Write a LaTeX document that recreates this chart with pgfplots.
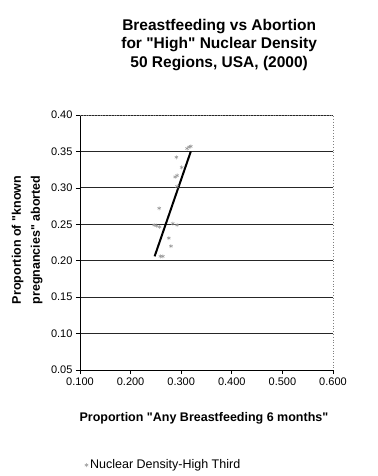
\documentclass[border=0pt]{standalone}
\usepackage{pgfplots}
\pgfplotsset{compat=1.18}
\usepackage{fontspec}
\setmainfont{Liberation Sans}
\newcommand{\dq}{\textquotedbl}

% States in the upper third of nuclear density
\pgfplotstableread{
x      y
0.3115 0.354
0.3156 0.356
0.3190 0.357
0.2905 0.342
0.3010 0.328
0.2880 0.315
0.2920 0.317
0.2918 0.302
0.2565 0.272
0.2464 0.249
0.2511 0.248
0.2571 0.2465
0.2834 0.251
0.2918 0.249
0.2756 0.231
0.2798 0.220
0.2590 0.206
0.2637 0.206
}\hightable

\begin{document}
\begin{tikzpicture}
\begin{axis}[
  at={(0,0)}, anchor=south west,
  scale only axis, width=253bp, height=255bp,
  xmin=0.1, xmax=0.6, ymin=0.05, ymax=0.40,
  xtick={0.1,0.2,0.3,0.4,0.5,0.6},
  ytick={0.05,0.10,0.15,0.20,0.25,0.30,0.35,0.40},
  axis x line*=bottom, axis y line*=left,
  axis line style={-, black, line width=0.8bp},
  ymajorgrids,
  major grid style={black!85, line width=0.8bp},
  tick align=outside, major tick length=4bp,
  tick style={black, line width=0.6bp},
  ticklabel style={font=\fontsize{11bp}{13bp}\selectfont},
  x tick label style={/pgf/number format/.cd, fixed, fixed zerofill, precision=3, assume math mode=true},
  y tick label style={/pgf/number format/.cd, fixed, fixed zerofill, precision=2, assume math mode=true},
  xlabel={Proportion \dq Any Breastfeeding 6 months\dq},
  ylabel={Proportion of \dq known\\pregnancies\dq\ aborted},
  label style={font=\bfseries\fontsize{12.5bp}{19bp}\selectfont},
  x label style={at={(axis description cs:0.49,-0.188)}, anchor=center},
  y label style={at={(axis description cs:-0.209,0.51)}, anchor=center, align=center},
  legend style={at={(axis description cs:0.33,-0.373)}, anchor=center, draw=none,
    font=\fontsize{12.5bp}{15bp}\selectfont},
  legend cell align=left,
  clip=false,
]
\addplot[only marks, mark=asterisk, mark size=2bp, gray!80, mark options={line width=0.5bp}]
  table[x=x, y=y] {\hightable};
\addlegendentry{Nuclear Density-High Third}
% linear trend
\addplot[forget plot, black, line width=2bp] coordinates {(0.2475,0.206) (0.319,0.350)};
% plot area frame on top and right
\draw[gray, dotted, line width=0.8bp] (rel axis cs:0,1) -- (rel axis cs:1,1) -- (rel axis cs:1,0);
\node[font=\bfseries\fontsize{15.5bp}{18.5bp}\selectfont, align=center, anchor=center]
  at ([yshift=70bp]rel axis cs:0.55,1)
  {Breastfeeding vs Abortion\\for \dq High\dq\ Nuclear Density\\50 Regions, USA, (2000)};
\end{axis}
\pgfresetboundingbox
\path[use as bounding box] (-80bp,-106bp) rectangle (298bp,370bp);
\end{tikzpicture}
\end{document}
